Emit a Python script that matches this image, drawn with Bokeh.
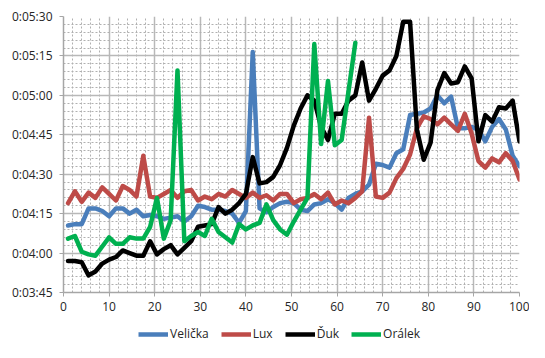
from bokeh.plotting import figure
from bokeh.layouts import column
from bokeh.models import Range1d, FixedTicker, Legend, LegendItem
from bokeh.embed import file_html
from bokeh.resources import INLINE

# lap positions (x axis)
x_vals = [1, 2.5, 4, 5.5, 7, 8.5, 10, 11.5, 13, 14.5,
          16, 17.5, 19, 20.5, 22, 23.5, 25, 26.5, 28, 29.5,
          31, 32.5, 34, 35.5, 37, 38.5, 40, 41.5, 43, 44.5,
          46, 47.5, 49, 50.5, 52, 53.5, 55, 56.5, 58, 59.5,
          61, 62.5, 64, 65.5, 67, 68.5, 70, 71.5, 73, 74.5,
          76, 77.5, 79, 80.5, 82, 83.5, 85, 86.5, 88, 89.5,
          91, 92.5, 94, 95.5, 97, 98.5, 100]

velicka = ["4:10.5", "4:11", "4:11", "4:17", "4:17", "4:16", "4:14", "4:17", "4:17", "4:15",
           "4:16.5", "4:14", "4:14.5", "4:14", "4:13", "4:13.5", "4:14", "4:12", "4:14", "4:18",
           "4:17.5", "4:16.5", "4:16.5", "4:16", "4:15", "4:11.5", "4:16", "5:16.5", "4:17", "4:15.5",
           "4:17.5", "4:19", "4:19.5", "4:19", "4:16.5", "4:16", "4:18.5", "4:19", "4:20.5", "4:19",
           "4:16.5", "4:21", "4:22.5", "4:23.5", "4:26", "4:34", "4:33.5", "4:32.5", "4:38", "4:39.5",
           "4:52.5", "4:53", "4:53.5", "4:55", "5:00", "4:57", "4:59.5", "4:47.5", "4:47.5", "4:48",
           "4:47", "4:42.5", "4:48", "4:51", "4:47", "4:37", "4:33"]

lux = ["4:19", "4:23.5", "4:19.5", "4:23", "4:21", "4:25", "4:22.5", "4:20", "4:25.5", "4:24",
       "4:21.5", "4:37", "4:21.5", "4:21", "4:22.5", "4:24", "4:21", "4:23.5", "4:24", "4:20",
       "4:21.5", "4:20.5", "4:22.5", "4:21.5", "4:24", "4:22.5", "4:21", "4:23", "4:21", "4:22",
       "4:20", "4:22.5", "4:22.5", "4:19", "4:20.5", "4:21", "4:22.5", "4:20.5", "4:23", "4:18.5",
       "4:20", "4:19", "4:21", "4:23.5", "4:51.5", "4:21.5", "4:21", "4:23", "4:28.5", "4:32",
       "4:37.5", "4:47.5", "4:52", "4:51", "4:49", "4:51.5", "4:49", "4:46.5", "4:53", "4:45.5",
       "4:35", "4:32.5", "4:36", "4:34.5", "4:38", "4:35", "4:28"]

duk = ["3:57", "3:57", "3:56.5", "3:51.5", "3:53", "3:56", "3:57.5", "3:58.5", "4:01", "4:00",
       "3:59", "3:59", "4:04.5", "3:59.5", "4:01.5", "4:03", "3:59.5", "4:02", "4:04.5", "4:10",
       "4:10.5", "4:11", "4:17.5", "4:15", "4:16.5", "4:19", "4:22.5", "4:36.5", "4:26.5", "4:27",
       "4:29", "4:33.5", "4:40", "4:48.5", "4:55", "5:00", "4:58", "4:48", "4:43", "4:53",
       "4:53", "4:58", "5:00", "5:12.5", "4:58", "5:02.5", "5:07.5", "5:09.5", "5:15", "5:28",
       "5:28", "4:47", "4:35.5", "4:42", "5:02", "5:08.5", "5:04.5", "5:05", "5:11", "5:06.5",
       "4:42.5", "4:52.5", "4:50", "4:55.5", "4:55", "4:58", "4:42.5"]

oralek = ["4:05.5", "4:06.5", "4:00.5", "3:59.5", "3:59", "4:02.5", "4:06", "4:03.5", "4:03.5", "4:06",
          "4:05.5", "4:05.5", "4:10", "4:21", "4:05.5", "4:12.5", "5:09.5", "4:04.5", "4:06.5", "4:08",
          "4:06.5", "4:13", "4:08", "4:06", "4:04", "4:11", "4:09", "4:10.5", "4:11.5", "4:18.5",
          "4:12.5", "4:09", "4:07", "4:12", "4:16.5", "4:21", "5:19.5", "4:41.5", "5:05.5", "4:41",
          "4:43", "5:01.5", "5:20"]

series_names = ["Velička", "Lux", "Ďuk", "Orálek"]
series_colors = ["#4A7EBB", "#BE4B48", "#000000", "#00B050"]

x_ticks = [0, 10, 20, 30, 40, 50, 60, 70, 80, 90, 100]
y_ticks = [225, 240, 255, 270, 285, 300, 315, 330]
y_tick_labels = ["0:03:45", "0:04:00", "0:04:15", "0:04:30", "0:04:45", "0:05:00", "0:05:15", "0:05:30"]


def secs(t):
    m, s = t.split(":")
    return int(m) * 60 + float(s)


FONT = "Open Sans"
TXT = "#262626"
W = 529

p = figure(width=W, height=318, output_backend="svg", toolbar_location=None,
           x_range=Range1d(0, 100), y_range=Range1d(225, 330),
           min_border_left=63, min_border_right=10, min_border_top=16, min_border_bottom=26)
p.outline_line_color = None
p.background_fill_color = "white"
p.border_fill_color = "white"

xt = FixedTicker(ticks=x_ticks, minor_ticks=list(range(0, 101, 2)))
yt = FixedTicker(ticks=y_ticks, minor_ticks=list(range(225, 331, 3)))
p.xaxis.ticker = xt
p.yaxis.ticker = yt
p.xgrid.ticker = xt
p.ygrid.ticker = yt

for g in (p.xgrid, p.ygrid):
    g.grid_line_color = "#b8b8b8"
    g.grid_line_width = 1.5
    g.minor_grid_line_color = "#b0b0b0"
    g.minor_grid_line_width = 1
    g.minor_grid_line_dash = "2 2"

p.yaxis.major_label_overrides = {t: lab for t, lab in zip(y_ticks, y_tick_labels)}

for ax in (p.xaxis, p.yaxis):
    ax.axis_line_color = "#a6a6a6"
    ax.axis_line_width = 1.5
    ax.major_tick_line_color = "#a6a6a6"
    ax.major_tick_out = 4
    ax.major_tick_in = 0
    ax.minor_tick_out = 0
    ax.minor_tick_in = 0
    ax.major_label_text_font = FONT
    ax.major_label_text_font_size = "12px"
    ax.major_label_text_color = TXT
p.yaxis.major_label_standoff = 7
p.xaxis.major_label_standoff = 5

all_series = [velicka, lux, duk, oralek]
for name, vals, col in zip(series_names, all_series, series_colors):
    ys = [secs(v) for v in vals]
    p.line(x_vals[:len(ys)], ys, line_color=col, line_width=4.5,
           line_join="round", line_cap="round")

# legend strip below the chart (its own copies of the series lie outside its ranges)
lg = figure(width=W, height=24, output_backend="svg", toolbar_location=None,
            x_range=Range1d(1000, 1001), y_range=Range1d(1000, 1001),
            min_border_left=0, min_border_right=0, min_border_top=0, min_border_bottom=0)
lg.xaxis.visible = False
lg.yaxis.visible = False
lg.grid.visible = False
lg.outline_line_color = None
lg.border_fill_color = "white"
lg.background_fill_color = "white"
items = []
for name, vals, col in zip(series_names, all_series, series_colors):
    ys = [secs(v) for v in vals]
    r = lg.line(x_vals[:len(ys)], ys, line_color=col, line_width=4.5, line_cap="butt")
    items.append(LegendItem(label=name, renderers=[r]))
legend = Legend(items=items, orientation="horizontal", location=(75, 0),
                border_line_color=None, background_fill_alpha=0,
                padding=0, margin=0, spacing=12, glyph_width=30, glyph_height=14,
                label_height=14, label_standoff=2,
                label_text_font=FONT, label_text_font_size="12px", label_text_color=TXT)
lg.add_layout(legend)

layout = column(p, lg, spacing=0)
open("out.html", "w").write(file_html(layout, INLINE))
